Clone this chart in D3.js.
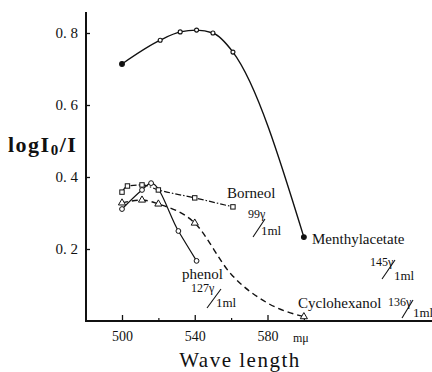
<!DOCTYPE html>
<html>
<head>
<meta charset="utf-8">
<script src="https://cdn.jsdelivr.net/npm/d3@7"></script>
<style>
  html, body { margin: 0; padding: 0; background: #fff; }
  svg { display: block; }
  text { font-family: "Liberation Serif", "DejaVu Serif", serif; fill: #111; }
</style>
</head>
<body>
<svg id="chart" width="432" height="372"></svg>
<script>
// ---- data ----
const xMajorTicks = [500, 540, 580];
const xMinorTicks = [520, 560, 600];
const xTickLabels = ["500", "540", "580"];
const yTicks = [0.2, 0.4, 0.6, 0.8];
const yTickLabels = ["0. 2", "0. 4", "0. 6", "0. 8"];

const menthylWave = [500, 521, 532, 541, 550, 561, 600];
const menthylVal  = [0.714, 0.78, 0.803, 0.808, 0.80, 0.747, 0.233];

const borneolWave = [500, 503, 511, 520, 540, 561];
const borneolVal  = [0.358, 0.375, 0.378, 0.364, 0.342, 0.317];

const phenolWave = [500, 511, 516, 531, 541];
const phenolVal  = [0.311, 0.364, 0.383, 0.25, 0.167];

const cyclohexWave = [500, 511, 520, 540, 600];
const cyclohexVal  = [0.328, 0.336, 0.325, 0.272, 0.012];
// unmarked points on the dashed curve
const cyclohexTraceWave = [560, 580];
const cyclohexTraceVal  = [0.13, 0.05];

// ---- layout ----
const svg = d3.select("#chart");
const x = d3.scaleLinear().domain([500, 580]).range([122, 267.5]);
const y = d3.scaleLinear().domain([0, 0.8]).range([321, 33]);
const axisX0 = 86, axisY0 = 321;
const ink = "#111";

// x-axis line
svg.append("line").attr("x1", axisX0 - 1).attr("x2", 432).attr("y1", axisY0).attr("y2", axisY0)
  .attr("stroke", ink).attr("stroke-width", 2);
// y-axis line
svg.append("line").attr("x1", axisX0).attr("x2", axisX0).attr("y1", 12).attr("y2", axisY0 + 1)
  .attr("stroke", ink).attr("stroke-width", 2);

// x axis ticks (pointing up)
const gx = svg.append("g").attr("transform", `translate(0,${axisY0})`)
  .call(d3.axisBottom(x).tickValues(xMajorTicks).tickSize(-6).tickPadding(17)
    .tickFormat((d, i) => xTickLabels[i]));
gx.select(".domain").remove();
gx.selectAll(".tick line").attr("stroke", ink).attr("stroke-width", 1.3);
gx.selectAll(".tick text").attr("font-family", "'Liberation Sans', Arial, sans-serif")
  .attr("font-size", 14).attr("fill", ink).attr("dy", "0.2em");
const gxm = svg.append("g").attr("transform", `translate(0,${axisY0})`)
  .call(d3.axisBottom(x).tickValues(xMinorTicks).tickSize(-3).tickFormat(""));
gxm.select(".domain").remove();
gxm.selectAll(".tick line").attr("stroke", ink).attr("stroke-width", 1.2);

// y axis ticks (pointing right)
const gy = svg.append("g").attr("transform", `translate(${axisX0},0)`)
  .call(d3.axisLeft(y).tickValues(yTicks).tickSizeInner(-4).tickSizeOuter(0).tickPadding(8)
    .tickFormat((d, i) => yTickLabels[i]));
gy.select(".domain").remove();
gy.selectAll(".tick line").attr("stroke", ink).attr("stroke-width", 1.3);
gy.selectAll(".tick text").attr("font-family", "'Liberation Serif', serif")
  .attr("font-size", 15).attr("fill", ink);

// ---- series lines ----
function pts(w, v) { return w.map((d, i) => [d, v[i]]); }
const lineGen = d3.line().x(d => x(d[0])).y(d => y(d[1])).curve(d3.curveMonotoneX);

svg.append("path").attr("d", lineGen(pts(menthylWave, menthylVal)))
  .attr("fill", "none").attr("stroke", ink).attr("stroke-width", 1.4);

svg.append("path").attr("d", lineGen(pts(borneolWave, borneolVal)))
  .attr("fill", "none").attr("stroke", ink).attr("stroke-width", 1.2)
  .attr("stroke-dasharray", "6,2,1.5,2");

svg.append("path").attr("d", lineGen(pts(phenolWave, phenolVal)))
  .attr("fill", "none").attr("stroke", ink).attr("stroke-width", 1.2);

const cycAll = pts(cyclohexWave, cyclohexVal).concat(pts(cyclohexTraceWave, cyclohexTraceVal))
  .sort((a, b) => a[0] - b[0]);
svg.append("path").attr("d", lineGen(cycAll))
  .attr("fill", "none").attr("stroke", ink).attr("stroke-width", 1.4)
  .attr("stroke-dasharray", "6,4");

// ---- markers ----
const mp = pts(menthylWave, menthylVal);
svg.selectAll(".m").data(mp).join("circle")
  .attr("cx", d => x(d[0])).attr("cy", d => y(d[1]))
  .attr("r", (d, i) => (i === 0 || i === mp.length - 1) ? 2.4 : 2)
  .attr("fill", (d, i) => (i === 0 || i === mp.length - 1) ? ink : "#fff")
  .attr("stroke", ink).attr("stroke-width", 1.1);

svg.selectAll(".b").data(pts(borneolWave, borneolVal)).join("rect")
  .attr("x", d => x(d[0]) - 2.2).attr("y", d => y(d[1]) - 2.2)
  .attr("width", 4.4).attr("height", 4.4)
  .attr("fill", "#fff").attr("stroke", ink).attr("stroke-width", 1);

svg.selectAll(".c").data(pts(cyclohexWave, cyclohexVal)).join("path")
  .attr("d", d3.symbol().type(d3.symbolTriangle).size(22))
  .attr("transform", d => `translate(${x(d[0])},${y(d[1])})`)
  .attr("fill", "#fff").attr("stroke", ink).attr("stroke-width", 1);

svg.selectAll(".p").data(pts(phenolWave, phenolVal)).join("circle")
  .attr("cx", d => x(d[0])).attr("cy", d => y(d[1])).attr("r", 2.4)
  .attr("fill", "#fff").attr("stroke", ink).attr("stroke-width", 1);

// ---- annotations ----
function label(t, xx, yy, size) {
  return svg.append("text").attr("x", xx).attr("y", yy).attr("font-size", size).text(t);
}
function slash(x1, y1, x2, y2) {
  svg.append("line").attr("x1", x1).attr("y1", y1).attr("x2", x2).attr("y2", y2)
    .attr("stroke", ink).attr("stroke-width", 1.1);
}
label("Borneol", 227, 198, 15);
label("99γ", 248, 218, 12);
slash(253, 237, 265, 219);
label("1ml", 261, 235, 13);

label("Menthylacetate", 312, 244, 15);
label("145γ", 370, 266, 12);
slash(382, 279, 395, 260);
label("1ml", 394, 280, 13);

label("phenol", 182, 279, 15);
label("127γ", 191, 292, 12);
slash(207, 308, 221, 289);
label("1ml", 216, 307, 13);

label("Cyclohexanol", 298, 308, 15);
label("136γ", 388, 306, 12);
slash(402, 318, 413, 300);
label("1ml", 413, 317, 13);

label("mμ", 293, 342, 12);

// axis titles
svg.append("text").attr("x", 240).attr("y", 367).attr("text-anchor", "middle")
  .attr("font-size", 21).attr("letter-spacing", 1.5).text("Wave length");

const yl = svg.append("text").attr("x", 8).attr("y", 152).attr("font-size", 22)
  .attr("font-weight", "bold").attr("letter-spacing", 1.5);
yl.append("tspan").text("logI");
yl.append("tspan").attr("font-size", 15).attr("dy", 3).text("0");
yl.append("tspan").attr("dy", -3).text("/I");
</script>
</body>
</html>
